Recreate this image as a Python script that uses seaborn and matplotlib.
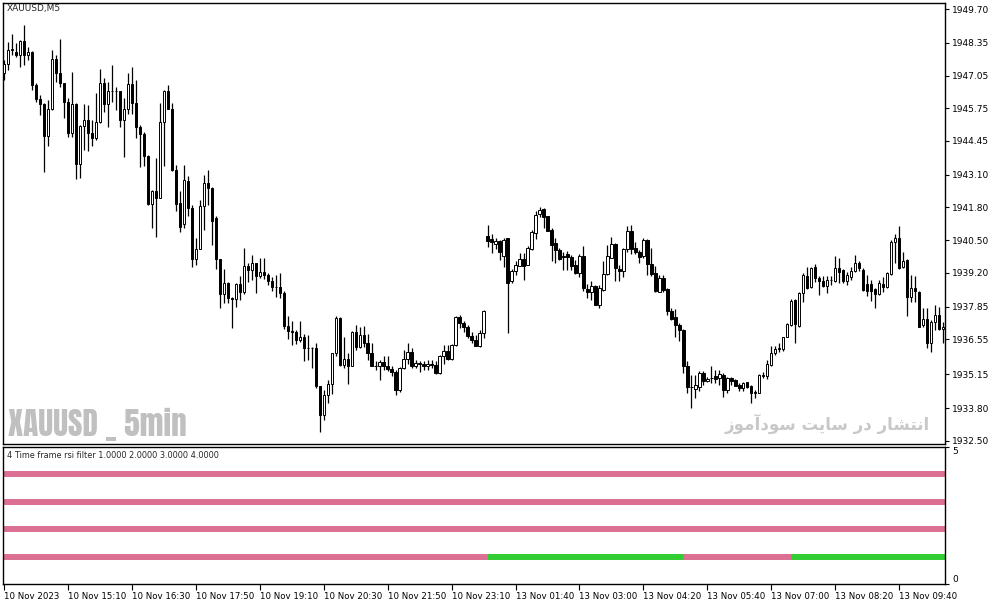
import numpy as np
import pandas as pd
import seaborn as sns
import matplotlib.pyplot as plt

# XAUUSD M5 candles, 10 Nov 2023 13:50 -> 13 Nov 2023 10:35
opens = [
    1947.14, 1947.53, 1948.07, 1948.00, 1947.87, 1948.44, 1947.87, 1948.00, 1946.67, 1946.11,
    1945.90, 1944.65, 1945.70, 1947.73, 1947.16, 1946.74, 1946.01, 1944.75, 1945.90, 1943.51,
    1945.04, 1945.28, 1944.75, 1944.55, 1945.19, 1946.74, 1945.90, 1946.44, 1946.44, 1946.44,
    1945.28, 1945.70, 1946.71, 1945.94, 1944.99, 1944.71, 1943.85, 1941.92, 1942.45, 1942.16,
    1945.19, 1946.45, 1945.72, 1943.29, 1941.98, 1941.13, 1942.85, 1941.76, 1939.75, 1940.13,
    1941.86, 1942.76, 1942.56, 1941.37, 1939.73, 1938.35, 1938.80, 1938.18, 1938.14, 1938.76,
    1938.45, 1939.47, 1939.29, 1939.58, 1939.05, 1939.22, 1939.09, 1938.89, 1938.65, 1938.63,
    1938.41, 1937.09, 1936.89, 1936.82, 1936.53, 1936.66, 1936.20, 1936.20, 1936.19, 1934.67,
    1933.54, 1934.34, 1934.78, 1936.00, 1937.39, 1935.53, 1935.76, 1935.47, 1936.82, 1936.26,
    1936.73, 1936.40, 1936.00, 1935.49, 1935.49, 1935.64, 1935.49, 1935.36, 1935.23, 1934.54,
    1935.40, 1935.77, 1936.06, 1935.47, 1935.60, 1935.57, 1935.47, 1935.57, 1935.53, 1935.20,
    1935.89, 1936.09, 1935.76, 1936.33, 1937.42, 1937.19, 1937.03, 1936.70, 1936.53, 1936.29,
    1936.80, 1940.67, 1940.55, 1940.34, 1940.48, 1939.85, 1940.57, 1938.88, 1939.27, 1939.47,
    1939.75, 1939.51, 1940.15, 1940.77, 1941.53, 1941.74, 1941.44, 1940.91, 1940.38, 1940.11,
    1939.85, 1939.94, 1939.81, 1939.49, 1939.18, 1939.87, 1938.56, 1938.45, 1938.69, 1937.92,
    1938.52, 1939.14, 1939.80, 1940.34, 1939.35, 1939.25, 1940.15, 1940.87, 1940.18, 1940.04,
    1939.85, 1940.51, 1939.55, 1939.18, 1938.45, 1938.98, 1938.56, 1937.66, 1937.42, 1937.12,
    1936.93, 1935.47, 1934.65, 1934.56, 1934.63, 1935.20, 1934.87, 1935.00, 1935.07, 1934.99,
    1935.13, 1934.53, 1935.00, 1934.93, 1934.73, 1934.60, 1934.83, 1934.69, 1934.47, 1934.43,
    1935.10, 1935.09, 1935.53, 1935.99, 1936.15, 1936.15, 1936.63, 1937.12, 1938.12, 1937.08,
    1938.41, 1939.07, 1938.62, 1939.42, 1938.98, 1938.89, 1938.67, 1938.91, 1938.89, 1939.38,
    1939.31, 1938.89, 1939.02, 1939.28, 1939.60, 1939.31, 1938.75, 1938.75, 1938.54, 1938.35,
    1938.75, 1938.62, 1939.15, 1940.44, 1940.57, 1939.42, 1939.71, 1938.22, 1938.58, 1938.45,
    1937.12, 1937.35, 1936.39, 1937.25, 1937.52, 1936.95,
]
highs = [
    1947.67, 1948.40, 1948.70, 1948.36, 1948.47, 1949.06, 1948.17, 1948.03, 1946.74, 1946.27,
    1945.95, 1946.07, 1948.07, 1947.87, 1948.50, 1946.74, 1946.14, 1947.20, 1945.95, 1945.08,
    1945.90, 1945.88, 1945.28, 1946.34, 1947.30, 1946.94, 1946.81, 1947.47, 1946.61, 1946.44,
    1946.14, 1947.16, 1947.40, 1946.87, 1945.08, 1944.81, 1943.89, 1942.49, 1943.75, 1945.94,
    1946.47, 1946.67, 1945.94, 1943.49, 1942.47, 1943.49, 1943.05, 1941.90, 1940.57, 1942.09,
    1943.09, 1943.29, 1942.63, 1941.46, 1939.73, 1939.33, 1938.84, 1938.25, 1938.78, 1939.05,
    1940.18, 1939.58, 1939.91, 1939.58, 1939.78, 1939.78, 1939.18, 1939.02, 1939.12, 1939.18,
    1938.49, 1937.46, 1937.26, 1936.93, 1937.26, 1936.75, 1936.73, 1936.24, 1936.42, 1934.70,
    1934.54, 1934.94, 1936.02, 1937.48, 1937.43, 1936.66, 1936.00, 1936.86, 1937.13, 1937.03,
    1937.09, 1936.77, 1936.40, 1935.67, 1935.73, 1935.87, 1935.87, 1935.47, 1935.31, 1935.43,
    1936.13, 1936.40, 1936.22, 1935.71, 1935.67, 1935.67, 1935.71, 1935.71, 1935.67, 1935.93,
    1936.33, 1936.33, 1936.37, 1937.48, 1937.52, 1937.26, 1937.13, 1936.82, 1936.73, 1936.93,
    1937.70, 1941.11, 1940.73, 1940.57, 1940.51, 1940.57, 1940.60, 1939.35, 1939.67, 1939.98,
    1939.98, 1940.28, 1940.91, 1941.64, 1941.80, 1941.77, 1941.46, 1941.00, 1940.58, 1940.18,
    1940.02, 1940.07, 1939.91, 1939.71, 1939.94, 1940.28, 1938.74, 1938.88, 1938.72, 1938.72,
    1939.65, 1940.31, 1940.64, 1940.38, 1939.51, 1940.20, 1941.08, 1941.11, 1940.44, 1940.11,
    1940.60, 1940.55, 1940.18, 1939.45, 1939.12, 1939.12, 1938.58, 1937.79, 1937.76, 1937.19,
    1936.95, 1935.67, 1935.13, 1935.13, 1935.27, 1935.27, 1935.03, 1935.47, 1935.33, 1935.33,
    1935.20, 1935.06, 1935.06, 1934.96, 1934.80, 1934.86, 1934.86, 1934.73, 1934.53, 1935.17,
    1935.26, 1935.73, 1936.28, 1936.28, 1936.42, 1936.66, 1937.19, 1938.14, 1938.14, 1938.45,
    1939.18, 1939.44, 1939.44, 1939.55, 1939.07, 1939.07, 1939.07, 1939.07, 1939.87, 1939.77,
    1939.34, 1939.24, 1939.44, 1939.91, 1939.68, 1939.38, 1939.11, 1938.91, 1938.58, 1938.91,
    1939.04, 1939.24, 1940.50, 1940.74, 1941.06, 1940.04, 1939.73, 1939.11, 1939.07, 1938.49,
    1937.78, 1937.78, 1937.32, 1937.92, 1937.82, 1937.25,
]
lows = [
    1946.87, 1947.27, 1947.87, 1947.80, 1947.38, 1947.47, 1947.67, 1946.47, 1946.00, 1945.48,
    1943.22, 1944.24, 1945.68, 1946.81, 1946.61, 1945.37, 1944.59, 1944.62, 1942.92, 1942.99,
    1944.09, 1944.06, 1944.24, 1944.48, 1945.15, 1945.61, 1944.99, 1946.01, 1945.68, 1945.01,
    1943.82, 1945.54, 1945.54, 1944.55, 1943.42, 1943.45, 1941.90, 1941.00, 1940.63, 1942.16,
    1943.46, 1945.70, 1943.26, 1941.67, 1940.83, 1940.99, 1941.46, 1939.44, 1939.51, 1940.13,
    1940.90, 1941.90, 1940.31, 1939.33, 1937.78, 1937.98, 1938.01, 1936.99, 1937.85, 1938.12,
    1938.36, 1938.85, 1938.92, 1938.39, 1938.98, 1938.94, 1938.72, 1938.49, 1938.23, 1938.19,
    1936.95, 1936.56, 1936.33, 1936.37, 1936.46, 1935.67, 1935.71, 1935.40, 1934.60, 1932.84,
    1933.34, 1934.01, 1934.38, 1935.89, 1935.49, 1935.40, 1934.78, 1935.47, 1936.13, 1936.20,
    1936.26, 1935.73, 1935.47, 1935.31, 1934.94, 1935.33, 1935.27, 1935.09, 1934.34, 1934.46,
    1935.36, 1935.57, 1935.40, 1935.40, 1935.23, 1935.33, 1935.33, 1935.40, 1935.18, 1935.18,
    1935.57, 1935.73, 1935.71, 1936.29, 1936.99, 1936.82, 1936.60, 1936.42, 1936.29, 1936.26,
    1936.60, 1940.24, 1939.98, 1940.15, 1939.71, 1939.41, 1936.79, 1938.78, 1939.11, 1939.45,
    1938.92, 1939.49, 1940.11, 1940.55, 1941.40, 1940.97, 1940.87, 1939.65, 1939.58, 1939.71,
    1939.31, 1939.31, 1939.31, 1939.14, 1939.01, 1938.48, 1938.19, 1938.12, 1937.92, 1937.81,
    1938.48, 1939.11, 1939.78, 1938.88, 1938.88, 1939.01, 1940.04, 1939.94, 1939.94, 1939.58,
    1939.78, 1939.11, 1939.05, 1938.43, 1938.45, 1938.43, 1937.50, 1937.32, 1936.66, 1936.49,
    1935.20, 1934.40, 1933.83, 1934.21, 1934.50, 1934.74, 1934.84, 1934.80, 1934.80, 1934.73,
    1934.27, 1934.43, 1934.73, 1934.69, 1934.51, 1934.51, 1934.60, 1934.00, 1934.20, 1934.40,
    1935.00, 1934.96, 1935.49, 1935.93, 1936.06, 1936.10, 1936.63, 1937.08, 1936.39, 1937.05,
    1938.05, 1938.54, 1938.58, 1938.85, 1938.31, 1938.65, 1938.38, 1938.71, 1938.85, 1938.78,
    1938.78, 1938.71, 1938.91, 1939.24, 1939.28, 1938.49, 1938.28, 1938.09, 1937.78, 1938.31,
    1938.45, 1938.58, 1939.11, 1939.60, 1939.34, 1939.38, 1937.48, 1938.05, 1938.05, 1937.05,
    1937.03, 1936.19, 1936.06, 1936.92, 1936.92, 1936.39,
]
closes = [
    1947.53, 1948.07, 1948.10, 1947.87, 1948.44, 1947.87, 1948.00, 1946.67, 1946.11, 1945.90,
    1944.65, 1945.70, 1947.73, 1947.16, 1946.74, 1946.01, 1944.75, 1945.90, 1943.51, 1945.04,
    1945.28, 1944.75, 1944.55, 1945.19, 1946.74, 1945.90, 1946.44, 1946.45, 1946.44, 1945.28,
    1945.70, 1946.71, 1945.94, 1944.99, 1944.71, 1943.85, 1941.92, 1942.45, 1942.16, 1945.19,
    1946.45, 1945.72, 1943.29, 1941.92, 1941.03, 1942.89, 1941.76, 1939.75, 1940.13, 1941.86,
    1942.76, 1942.56, 1941.27, 1939.73, 1938.35, 1938.80, 1938.18, 1938.14, 1938.76, 1938.45,
    1939.47, 1939.29, 1939.58, 1939.05, 1939.22, 1939.09, 1938.89, 1938.65, 1938.63, 1938.41,
    1937.09, 1936.89, 1936.82, 1936.53, 1936.66, 1936.20, 1936.20, 1936.19, 1934.67, 1933.54,
    1934.34, 1934.78, 1936.00, 1937.39, 1935.53, 1935.76, 1935.47, 1936.82, 1936.26, 1936.73,
    1936.40, 1936.00, 1935.49, 1935.49, 1935.64, 1935.49, 1935.36, 1935.23, 1934.54, 1935.40,
    1935.77, 1936.06, 1935.47, 1935.60, 1935.57, 1935.47, 1935.57, 1935.53, 1935.20, 1935.89,
    1936.09, 1935.76, 1936.33, 1937.42, 1937.19, 1937.03, 1936.70, 1936.53, 1936.29, 1936.80,
    1937.66, 1940.48, 1940.42, 1940.48, 1940.02, 1940.51, 1938.78, 1939.27, 1939.51, 1939.75,
    1939.45, 1940.20, 1940.84, 1941.50, 1941.70, 1941.40, 1940.88, 1940.31, 1940.11, 1939.75,
    1939.83, 1939.81, 1939.45, 1939.18, 1939.85, 1938.61, 1938.45, 1938.68, 1937.92, 1938.61,
    1939.14, 1939.85, 1940.34, 1939.38, 1939.25, 1940.15, 1940.87, 1940.15, 1940.04, 1939.81,
    1940.51, 1939.54, 1939.14, 1938.48, 1938.98, 1938.52, 1937.66, 1937.36, 1937.12, 1936.93,
    1935.47, 1934.63, 1934.63, 1934.71, 1935.20, 1934.90, 1934.97, 1935.00, 1934.97, 1935.17,
    1934.53, 1935.00, 1934.90, 1934.70, 1934.60, 1934.80, 1934.66, 1934.43, 1934.40, 1935.13,
    1935.13, 1935.57, 1935.99, 1936.15, 1936.22, 1936.63, 1937.16, 1938.09, 1937.16, 1938.41,
    1939.11, 1938.58, 1939.38, 1938.98, 1938.89, 1938.67, 1938.91, 1938.91, 1939.38, 1939.24,
    1938.89, 1939.11, 1939.28, 1939.57, 1939.38, 1938.51, 1938.49, 1938.49, 1938.35, 1938.78,
    1938.65, 1939.20, 1940.44, 1940.57, 1939.38, 1939.68, 1938.22, 1938.58, 1938.49, 1937.05,
    1937.35, 1936.42, 1937.25, 1937.52, 1936.95, 1937.05,
]

price_ticks = [1949.70, 1948.35, 1947.05, 1945.75, 1944.45, 1943.10, 1941.80,
               1940.50, 1939.20, 1937.85, 1936.55, 1935.15, 1933.80, 1932.50]
time_labels = ['10 Nov 2023', '10 Nov 15:10', '10 Nov 16:30', '10 Nov 17:50',
               '10 Nov 19:10', '10 Nov 20:30', '10 Nov 21:50', '10 Nov 23:10',
               '13 Nov 01:40', '13 Nov 03:00', '13 Nov 04:20', '13 Nov 05:40',
               '13 Nov 07:00', '13 Nov 08:20', '13 Nov 09:40']
label_step = 16  # bars between date labels

# indicator: four timeframe rows, rows 4/3/2 stay bearish, row 1 flips
rsi_levels = [4, 3, 2, 1]
tf1_change_bars = [0, 121, 170, 197]
tf1_states = ['down', 'up', 'down', 'up']

df = pd.DataFrame({'open': opens, 'high': highs, 'low': lows, 'close': closes})
df['bar'] = np.arange(len(df))
df['up'] = df['close'] >= df['open']

sns.set_theme(style='white')
plt.rcParams['font.family'] = ['DejaVu Sans']

W, H = 991, 605
fig = plt.figure(figsize=(W / 100, H / 100), dpi=100)
ax = fig.add_axes([3 / W, 1 - 444 / H, 942 / W, 441 / H])
ax2 = fig.add_axes([3 / W, 1 - 584 / H, 942 / W, 137 / H])

xlim = (-0.3, len(df) - 0.5)

# wicks then bodies
ax.vlines(df['bar'], df['low'], df['high'], color='black', linewidth=0.9, zorder=2)
body_bottom = df[['open', 'close']].min(axis=1)
body_height = (df['close'] - df['open']).abs().clip(lower=0.005)
ax.bar(df['bar'], body_height, bottom=body_bottom, width=0.62,
       color=np.where(df['up'], 'white', 'black'), edgecolor='black',
       linewidth=0.7, zorder=3)

ax.set_xlim(*xlim)
ax.set_ylim(1932.38, 1949.94)
ax.set_xticks([])
ax.yaxis.tick_right()
ax.set_yticks(price_ticks)
ax.set_yticklabels([f'{p:.2f}' for p in price_ticks])
ax.tick_params(axis='y', direction='out', length=3, width=0.8, pad=2,
               labelsize=6.5, colors='black', right=True)

# indicator panel
pink, green = '#DB7093', '#32CD32'
for lvl in rsi_levels[:3]:
    ax2.hlines(lvl, xlim[0], xlim[1], color=pink, linewidth=4.3)
bounds = tf1_change_bars + [xlim[1]]
for k, state in enumerate(tf1_states):
    x0 = xlim[0] if k == 0 else bounds[k]
    ax2.hlines(rsi_levels[3], x0, bounds[k + 1],
               color=green if state == 'up' else pink, linewidth=4.3)

ax2.set_xlim(*xlim)
ax2.set_ylim(0, 5)
ax2.yaxis.tick_right()
ax2.set_yticks([0, 5])
ax2.set_yticklabels(['0', '5'])
ylab = ax2.get_yticklabels()
ylab[0].set_va('bottom')
ylab[1].set_va('top')
ax2.set_xticks(np.arange(len(time_labels)) * label_step)
ax2.set_xticklabels(time_labels, ha='left')
ax2.tick_params(axis='y', direction='out', length=3, width=0.8, pad=2,
                labelsize=6.5, colors='black', right=True)
ax2.tick_params(axis='x', direction='out', length=4, width=0.8, pad=2,
                labelsize=6.2, colors='black', bottom=True)

for a in (ax, ax2):
    for s in a.spines.values():
        s.set_color('black')
        s.set_linewidth(1.0)

fig.text(7 / W, 1 - 9 / H, 'XAUUSD,M5', fontsize=6.5, va='center', ha='left')
fig.text(7 / W, 1 - 455 / H, '4 Time frame rsi filter 1.0000 2.0000 3.0000 4.0000',
         fontsize=5.9, va='center', ha='left')

fig.text(8 / W, 1 - 424 / H, 'XAUUSD _ 5min', fontsize=22.5, weight='bold',
         color='#C0C0C0', va='center', ha='left',
         family=['Anton', 'Oswald', 'Barlow Condensed', 'DejaVu Sans'])
# "انتشار در سایت سودآموز" pre-shaped, visual order
fig.text(930 / W, 1 - 424 / H, '\uFEAF\uFEEE\uFEE3\uFE81\uFEA9\uFEEE\uFEB3 '
         '\uFE96\uFEF3\uFE8E\uFEB3 \uFEAD\uFEA9 \uFEAD\uFE8E\uFEB8\uFE98\uFEE7\uFE8D',
         fontsize=12, weight='bold', color='#C8C8C8', va='center', ha='right',
         family=['DejaVu Sans'])

fig.savefig('out.png', dpi=100)
